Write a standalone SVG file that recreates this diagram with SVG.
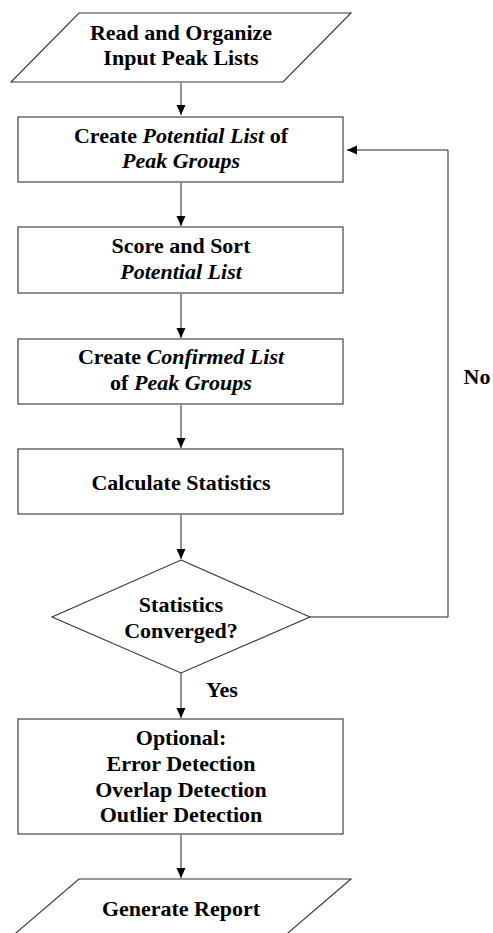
<svg xmlns="http://www.w3.org/2000/svg" width="493" height="933" viewBox="0 0 493 933">
<defs>
<style>
.n{fill:#fff;stroke:#333;stroke-width:1.1}
.c{fill:none;stroke:#222;stroke-width:1}
text{font-family:"Liberation Serif","Times New Roman",serif;font-weight:bold;font-size:22px;fill:#000;text-anchor:middle}
.i{font-style:italic}
</style>
<marker id="ah" markerWidth="10" markerHeight="10" refX="10" refY="5" orient="auto" markerUnits="userSpaceOnUse">
<path d="M0,0.5 L10,5 L0,9.5 Z" fill="#000"/>
</marker>
</defs>
<rect width="493" height="933" fill="#fff"/>
<g id="connectors">
<line class="c" x1="181" y1="83" x2="181" y2="115" marker-end="url(#ah)"/>
<line class="c" x1="181" y1="183" x2="181" y2="226" marker-end="url(#ah)"/>
<line class="c" x1="181" y1="294" x2="181" y2="338" marker-end="url(#ah)"/>
<line class="c" x1="181" y1="405" x2="181" y2="448" marker-end="url(#ah)"/>
<line class="c" x1="181" y1="515" x2="181" y2="559" marker-end="url(#ah)"/>
<line class="c" x1="181" y1="673" x2="181" y2="718" marker-end="url(#ah)"/>
<line class="c" x1="181" y1="835" x2="181" y2="878" marker-end="url(#ah)"/>
<polyline class="c" points="310,617 448,617 448,150 347,150" marker-end="url(#ah)"/>
<text x="222" y="697">Yes</text>
<text x="477" y="384">No</text>
</g>
<g id="read-input">
<polygon class="n" points="79,13 351,13 283,82 11,82"/>
<text x="181" y="40">Read and Organize</text>
<text x="181" y="65">Input Peak Lists</text>
</g>
<g id="create-potential">
<rect class="n" x="18" y="117" width="325" height="65"/>
<text x="181" y="143">Create <tspan class="i">Potential List</tspan> of</text>
<text x="181" y="168" class="i">Peak Groups</text>
</g>
<g id="score-sort">
<rect class="n" x="18" y="227" width="325" height="66"/>
<text x="181" y="253">Score and Sort</text>
<text x="181" y="279" class="i">Potential List</text>
</g>
<g id="create-confirmed">
<rect class="n" x="18" y="339" width="325" height="65"/>
<text x="181" y="364">Create <tspan class="i">Confirmed List</tspan></text>
<text x="181" y="390">of <tspan class="i">Peak Groups</tspan></text>
</g>
<g id="calc-stats">
<rect class="n" x="18" y="449" width="325" height="65"/>
<text x="181" y="490">Calculate Statistics</text>
</g>
<g id="converged">
<polygon class="n" points="181,560 310,617 181,673 52,617"/>
<text x="181" y="612">Statistics</text>
<text x="181" y="638">Converged?</text>
</g>
<g id="optional">
<rect class="n" x="18" y="719" width="325" height="115"/>
<text x="181" y="745">Optional:</text>
<text x="181" y="771">Error Detection</text>
<text x="181" y="797">Overlap Detection</text>
<text x="181" y="822">Outlier Detection</text>
</g>
<g id="report">
<polygon class="n" points="79,879 351,879 254,962 -18,962"/>
<text x="181" y="916">Generate Report</text>
</g>
</svg>
